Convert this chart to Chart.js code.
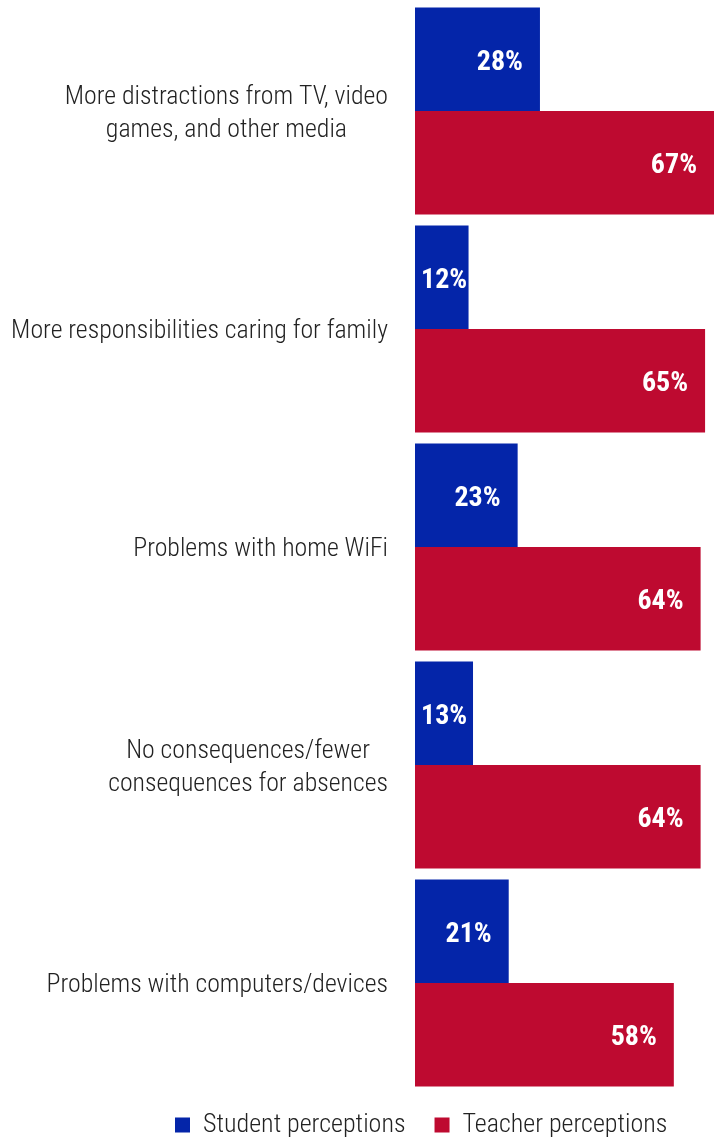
<!DOCTYPE html>
<html>
<head>
<meta charset="utf-8">
<script src="https://cdn.jsdelivr.net/npm/chart.js@4/dist/chart.umd.min.js"></script>
<style>
  html, body { margin: 0; padding: 0; background: #fff; }
  #wrap { width: 714px; height: 1142px; position: relative; }
</style>
</head>
<body>
<div id="wrap"><canvas id="chart"></canvas></div>
<script>
// Reasons given for missing remote classes
const categories = [
  ['More distractions from TV, video', 'games, and other media'],
  ['More responsibilities caring for family'],
  ['Problems with home WiFi'],
  ['No consequences/fewer', 'consequences for absences'],
  ['Problems with computers/devices']
];
const studentValues = [28, 12, 23, 13, 21];
const teacherValues = [67, 65, 64, 64, 58];
const seriesNames = ['Student perceptions', 'Teacher perceptions'];
const seriesColors = ['#0425A9', '#BE0A30'];

const FAMILY = '"Roboto Condensed", "Liberation Sans Narrow", "DejaVu Sans Condensed", Roboto, sans-serif';

// Category names: block right-aligned against the bars, lines centred within the block
const categoryLabels = {
  id: 'categoryLabels',
  afterDraw(chart) {
    const { ctx, chartArea } = chart;
    const yScale = chart.scales.y;
    const lineH = 33;
    const right = chartArea.left - 27;
    ctx.save();
    ctx.font = `300 25.8px ${FAMILY}`;
    ctx.fillStyle = '#222222';
    ctx.textAlign = 'center';
    ctx.textBaseline = 'middle';
    categories.forEach((lines, i) => {
      const cy = yScale.getPixelForValue(i) + 3;
      const w = Math.max(...lines.map(l => ctx.measureText(l).width));
      const cx = right - w / 2;
      lines.forEach((l, k) => {
        ctx.fillText(l, cx, cy + (k - (lines.length - 1) / 2) * lineH);
      });
    });
    ctx.restore();
  }
};

// Value labels inside the bar end, kept inside the bar when it is short
const valueLabels = {
  id: 'valueLabels',
  afterDatasetsDraw(chart) {
    const { ctx } = chart;
    ctx.save();
    ctx.font = `bold 28px ${FAMILY}`;
    ctx.fillStyle = '#ffffff';
    ctx.textAlign = 'left';
    ctx.textBaseline = 'middle';
    chart.data.datasets.forEach((ds, di) => {
      chart.getDatasetMeta(di).data.forEach((bar, i) => {
        const text = ds.data[i] + '%';
        const w = ctx.measureText(text).width;
        const x = Math.max(bar.x - 17 - w, bar.base + 6);
        ctx.fillText(text, x, bar.y + 3.5);
      });
    });
    ctx.restore();
  }
};

// Legend placement below the plot
const legendPlacement = {
  id: 'legendPlacement',
  afterLayout(chart) {
    const lg = chart.legend;
    if (!lg || !lg.lineWidths) return;
    const pad = lg.options.labels.padding;
    const firstX = (lg.left + pad + lg.right - lg.lineWidths[0]) / 2;
    const dx = 175 - firstX;
    const dy = (1125 - 13 - pad) - lg.top;
    lg.left += dx; lg.right += dx;
    lg.top += dy;
    lg.bottom = chart.height;
  }
};

new Chart(document.getElementById('chart'), {
  type: 'bar',
  data: {
    labels: categories,
    datasets: [
      { label: seriesNames[0], data: studentValues, backgroundColor: seriesColors[0] },
      { label: seriesNames[1], data: teacherValues, backgroundColor: seriesColors[1] }
    ]
  },
  options: {
    indexAxis: 'y',
    responsive: true,
    maintainAspectRatio: false,
    animation: false,
    layout: { padding: { top: 2, right: 0, bottom: 0, left: 0 } },
    datasets: { bar: { categoryPercentage: 0.95, barPercentage: 1.0, borderWidth: 0 } },
    scales: {
      x: { display: false, min: 0, max: 67 },
      y: {
        grid: { display: false },
        border: { display: false },
        ticks: { display: false },
        afterFit(scale) { scale.width = 415; }
      }
    },
    plugins: {
      tooltip: { enabled: false },
      legend: {
        position: 'bottom',
        maxHeight: 50,
        labels: {
          boxWidth: 15,
          boxHeight: 15,
          padding: 29,
          color: '#222222',
          font: { family: FAMILY, size: 26, weight: '300' }
        }
      }
    }
  },
  plugins: [categoryLabels, valueLabels, legendPlacement]
});
</script>
</body>
</html>
